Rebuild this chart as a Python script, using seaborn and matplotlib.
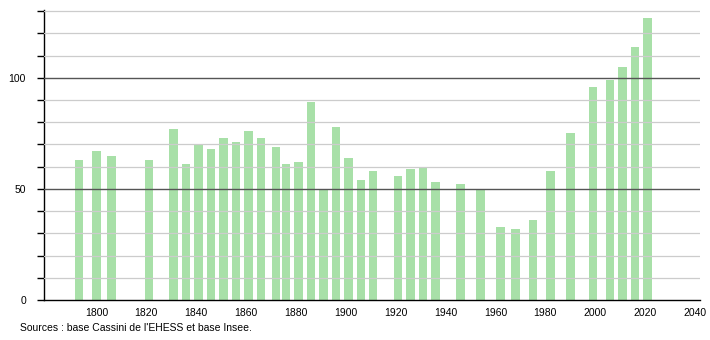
import matplotlib
matplotlib.use("Agg")
import matplotlib.pyplot as plt
import seaborn as sns
import pandas as pd

years = [1793, 1800, 1806, 1821, 1831, 1836, 1841, 1846, 1851, 1856, 1861, 1866,
         1872, 1876, 1881, 1886, 1891, 1896, 1901, 1906, 1911, 1921, 1926, 1931,
         1936, 1946, 1954, 1962, 1968, 1975, 1982, 1990, 1999, 2006, 2011, 2016, 2021]
population = [63, 67, 65, 63, 77, 61, 70, 68, 73, 71, 76, 73,
              69, 61, 62, 89, 50, 78, 64, 54, 58, 56, 59, 60,
              53, 52, 50, 33, 32, 36, 58, 75, 96, 99, 105, 114, 127]
y_ticks = [0, 50, 100]
x_ticks = [1800, 1820, 1840, 1860, 1880, 1900, 1920, 1940, 1960, 1980, 2000, 2020, 2040]
source_text = "Sources : base Cassini de l'EHESS et base Insee."

df = pd.DataFrame({"year": years, "pop": population})

sns.set_style("white")
plt.rcParams['font.family'] = ['Liberation Sans', 'DejaVu Sans']
plt.rcParams['text.color'] = 'black'
plt.rcParams['xtick.color'] = 'black'
plt.rcParams['ytick.color'] = 'black'

fig = plt.figure(figsize=(7.1, 3.4), dpi=100)
ax = fig.add_axes([44/710, 40/340, 656/710, 290/340])

sns.barplot(data=df, x="year", y="pop", native_scale=True, width=0.85,
            color="#a8e0a8", saturation=1, edgecolor="none", ax=ax, zorder=2)

ax.set_xlim(1779, 2042)
ax.set_ylim(0, 130.5)

for v in range(10, 131, 10):
    if v % 50 == 0:
        ax.axhline(v, color="#555555", lw=1.0, zorder=3)
    else:
        ax.axhline(v, color="#cccccc", lw=0.9, zorder=3)

ax.set_yticks(y_ticks)
ax.set_yticks(list(range(0, 131, 10)), minor=True)
ax.set_xticks(x_ticks)
ax.set_xticklabels([str(t) for t in x_ticks])
ax.tick_params(axis="y", which="both", direction="out", length=5, width=1, color="black",
               labelcolor="black", labelsize=7.5, pad=8, left=True)
ax.tick_params(axis="x", length=0, labelsize=7.5, labelcolor="black", pad=6)
ax.set_xlabel("")
ax.set_ylabel("")

for s in ["top", "right"]:
    ax.spines[s].set_visible(False)
ax.spines["left"].set_color("black")
ax.spines["bottom"].set_color("black")
ax.spines["left"].set_linewidth(1)
ax.spines["bottom"].set_linewidth(1)

fig.text(20/710, 1 - 328/340, source_text, fontsize=7.5, va="center", ha="left", color="black")

fig.savefig("out.png", dpi=100)
